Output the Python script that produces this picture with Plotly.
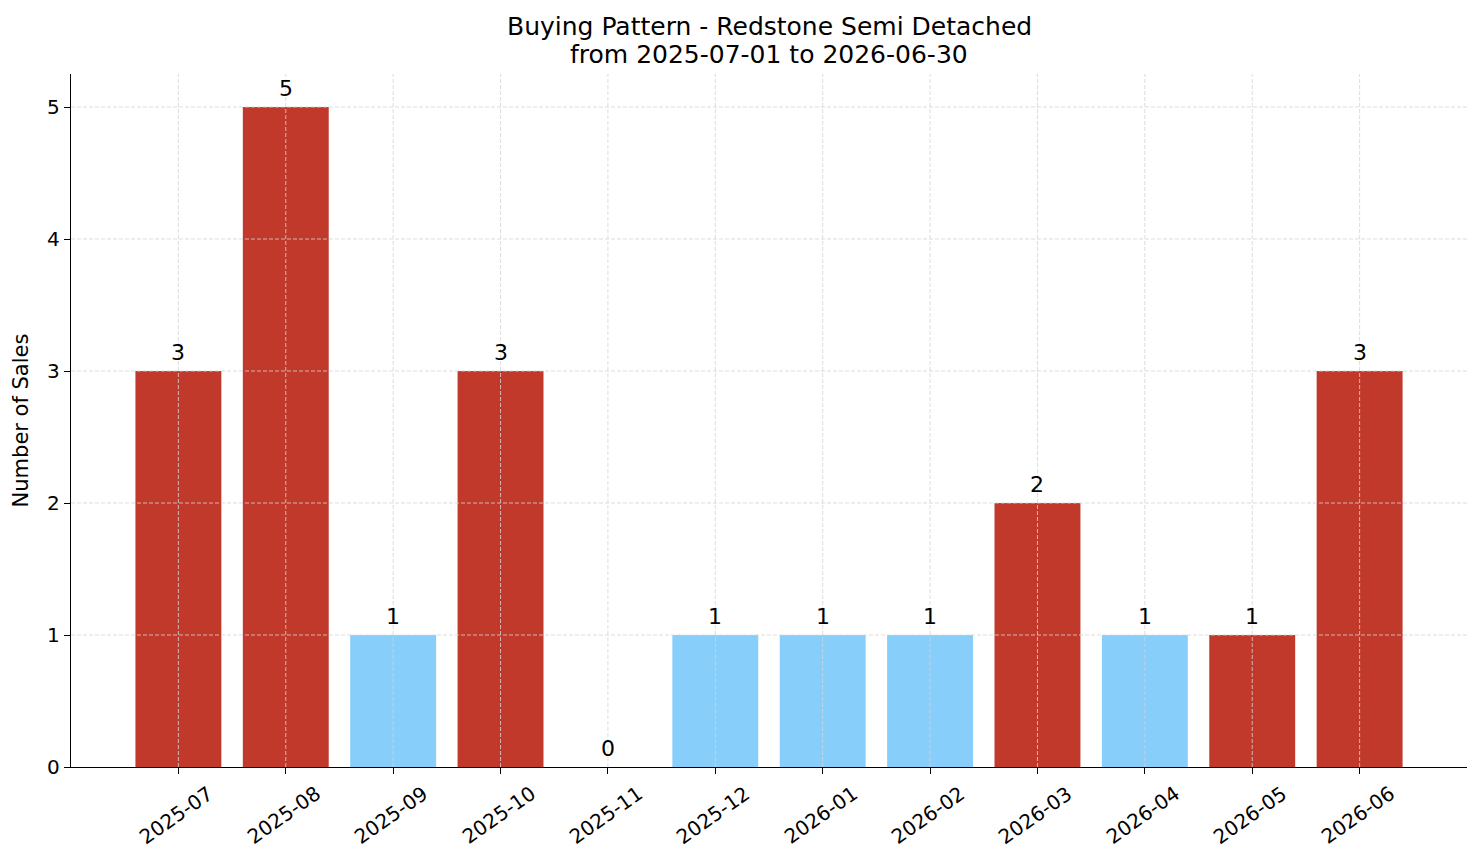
import plotly.graph_objects as go

months = ["2025-07", "2025-08", "2025-09", "2025-10", "2025-11", "2025-12",
          "2026-01", "2026-02", "2026-03", "2026-04", "2026-05", "2026-06"]
sales = [3, 5, 1, 3, 0, 1, 1, 1, 2, 1, 1, 3]
bar_colors = ["#c0392b", "#c0392b", "#87cefa", "#c0392b", "#87cefa", "#87cefa",
              "#87cefa", "#87cefa", "#c0392b", "#87cefa", "#c0392b", "#c0392b"]
y_ticks = [0, 1, 2, 3, 4, 5]
title_lines = ["Buying Pattern - Redstone Semi Detached", "from 2025-07-01 to 2026-06-30"]

x_idx = list(range(len(months)))
FONT = "DejaVu Sans"
GRID = "#d4d4d4"

fig = go.Figure()
fig.add_trace(go.Bar(x=x_idx, y=sales, marker=dict(color=bar_colors, line=dict(width=0)),
                     width=0.8, showlegend=False, hoverinfo="skip"))

shapes = []
for v in y_ticks[1:]:
    shapes.append(dict(type="line", xref="paper", yref="y", x0=0, x1=1, y0=v, y1=v,
                       line=dict(color=GRID, width=0.8, dash="4px,2px"), layer="above"))
for i in x_idx:
    shapes.append(dict(type="line", xref="x", yref="paper", x0=i, x1=i, y0=0, y1=1,
                       line=dict(color=GRID, width=0.8, dash="4px,2px"), layer="above"))

annotations = []
# value labels above bars
for i, v in zip(x_idx, sales):
    annotations.append(dict(x=i, y=v, xref="x", yref="y", text=str(v), showarrow=False,
                            xanchor="center", yanchor="bottom", yshift=4,
                            font=dict(size=22, family=FONT, color="black")))
# rotated month tick labels
for i, m in zip(x_idx, months):
    annotations.append(dict(x=i, y=0, xref="x", yref="paper", text=m, showarrow=False,
                            textangle=-35, xanchor="center", yanchor="top",
                            xshift=-2, yshift=-11,
                            font=dict(size=20, family=FONT, color="black")))
# two-line title
for k, (line, shift) in enumerate(zip(title_lines, [48, 20])):
    annotations.append(dict(x=0.5, y=1, xref="paper", yref="paper", text=line,
                            showarrow=False, xanchor="center", yanchor="middle",
                            yshift=shift, font=dict(size=25, family=FONT, color="black")))

fig.update_layout(
    width=1481, height=863,
    margin=dict(l=71, r=14, t=74, b=96),
    paper_bgcolor="white", plot_bgcolor="white",
    font=dict(family=FONT, color="black", size=20),
    shapes=shapes,
    annotations=annotations,
)
fig.update_xaxes(range=[-1.0, 12.0], tickmode="array", tickvals=x_idx,
                 ticktext=[""] * len(months),
                 showline=True, linecolor="black", linewidth=1.3,
                 ticks="outside", ticklen=6, tickcolor="black", showgrid=False,
                 zeroline=False, automargin=False)
fig.update_yaxes(range=[0, 5.25], tickmode="array", tickvals=y_ticks,
                 showline=True, linecolor="black", linewidth=1.3, ticks="outside",
                 ticklen=6, tickcolor="black", showgrid=False, zeroline=False,
                 title=dict(text="Number of Sales", font=dict(size=21, family=FONT), standoff=12),
                 tickfont=dict(size=20, family=FONT), automargin=False)

fig.write_html("out.html")
